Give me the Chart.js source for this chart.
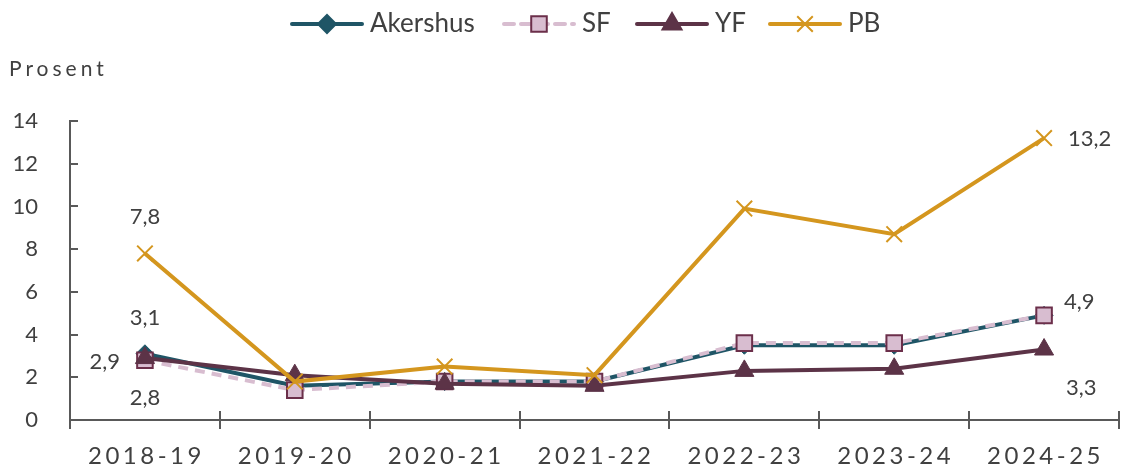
<!DOCTYPE html>
<html lang="no">
<head>
<meta charset="UTF-8">
<title>Prosent</title>
<script src="https://cdn.jsdelivr.net/npm/chart.js@4.4.1/dist/chart.umd.min.js"></script>
<style>
  html, body { margin: 0; padding: 0; background: #fff; }
  .wrap { width: 1132px; height: 468px; }
</style>
</head>
<body>
<div class="wrap"><canvas id="chart" width="1132" height="468"></canvas></div>
<script>
// data
const categories = ['2018-19', '2019-20', '2020-21', '2021-22', '2022-23', '2023-24', '2024-25'];
const akershus = [3.1, 1.6, 1.8, 1.8, 3.5, 3.5, 4.9];
const sf = [2.8, 1.4, 1.8, 1.8, 3.6, 3.6, 4.9];
const yf = [2.9, 2.1, 1.7, 1.6, 2.3, 2.4, 3.3];
const pb = [7.8, 1.8, 2.5, 2.1, 9.9, 8.7, 13.2];
const seriesNames = ['Akershus', 'SF', 'YF', 'PB'];
const yMin = 0, yMax = 14, yStep = 2;

const FONT = 'Lato, "Open Sans", sans-serif';
const TEXT = '#404040';
const AXIS = '#595959';

const colors = {
  akershus: '#1f5566',
  sfLine: '#d8bdd0',
  sfEdge: '#6b2f4a',
  yf: '#5c3347',
  pb: '#d4961e'
};

// which end points get value labels, and where
const valueLabels = [
  { ds: 0, i: 0, dx: 0, dy: -36, align: 'center' },
  { ds: 2, i: 0, dx: -25, dy: 4, align: 'right' },
  { ds: 1, i: 0, dx: 0, dy: 38, align: 'center' },
  { ds: 3, i: 0, dx: 0, dy: -37, align: 'center' },
  { ds: 3, i: 6, dx: 24, dy: 1, align: 'left' },
  { ds: 1, i: 6, dx: 20, dy: -13, align: 'left' },
  { ds: 2, i: 6, dx: 22, dy: 38, align: 'left' }
];

const fmt = v => v.toFixed(1).replace('.', ',');

const extras = {
  id: 'extras',
  afterDraw(chart) {
    const ctx = chart.ctx;
    const x = chart.scales.x, y = chart.scales.y;
    const area = chart.chartArea;
    ctx.save();

    // y tick marks (inside) and x tick marks (crossing the axis)
    ctx.strokeStyle = AXIS;
    ctx.lineWidth = 2;
    ctx.beginPath();
    y.ticks.forEach(t => {
      const py = Math.round(y.getPixelForValue(t.value));
      ctx.moveTo(area.left, py);
      ctx.lineTo(area.left + 8, py);
    });
    for (let i = 0; i <= categories.length; i++) {
      const px = Math.round(x.getPixelForValue(i - 0.5));
      ctx.moveTo(px, area.bottom - 9);
      ctx.lineTo(px, area.bottom + 9);
    }
    ctx.stroke();

    // x labels with letter spacing
    ctx.fillStyle = TEXT;
    ctx.font = '24px ' + FONT;
    ctx.letterSpacing = '3.5px';
    ctx.textAlign = 'center';
    ctx.textBaseline = 'middle';
    categories.forEach((c, i) => {
      ctx.fillText(c, x.getPixelForValue(i) + 1.5, area.bottom + 36);
    });

    // axis title
    ctx.font = '21px ' + FONT;
    ctx.letterSpacing = '4px';
    ctx.textAlign = 'left';
    ctx.fillText('Prosent', 9, 69);
    ctx.letterSpacing = '0px';

    // value labels
    ctx.font = '22px ' + FONT;
    valueLabels.forEach(l => {
      const pt = chart.getDatasetMeta(l.ds).data[l.i];
      const v = chart.data.datasets[l.ds].data[l.i];
      ctx.textAlign = l.align;
      ctx.fillText(fmt(v), pt.x + l.dx, pt.y + l.dy);
    });

    // legend: line + marker + name
    const legendX = [292, 504, 637, 770];
    const lineLen = 70;
    const ly = 24;
    chart.data.datasets.forEach((ds, k) => {
      const x0 = legendX[k];
      ctx.save();
      ctx.strokeStyle = ds.borderColor;
      ctx.lineWidth = ds.borderWidth;
      ctx.lineCap = 'round';
      ctx.setLineDash(ds.borderDash || []);
      ctx.beginPath();
      ctx.moveTo(x0, ly);
      ctx.lineTo(x0 + lineLen, ly);
      ctx.stroke();
      ctx.restore();
      ctx.fillStyle = ds.pointBackgroundColor;
      ctx.strokeStyle = ds.pointBorderColor;
      Chart.helpers.drawPoint(ctx, {
        pointStyle: ds.pointStyle,
        radius: ds.pointRadius,
        rotation: 0,
        borderWidth: ds.pointBorderWidth
      }, x0 + lineLen / 2, ly);
      ctx.fillStyle = TEXT;
      ctx.font = '26px ' + FONT;
      ctx.textAlign = 'left';
      ctx.textBaseline = 'middle';
      ctx.fillText(ds.label, x0 + lineLen + 8, ly);
    });
    ctx.restore();
  }
};

new Chart(document.getElementById('chart'), {
  type: 'line',
  data: {
    labels: categories,
    datasets: [
      {
        label: seriesNames[0], data: akershus, order: 4,
        borderColor: colors.akershus, borderWidth: 4,
        pointStyle: 'rectRot', pointRadius: 9,
        pointBackgroundColor: colors.akershus, pointBorderColor: colors.akershus, pointBorderWidth: 1
      },
      {
        label: seriesNames[1], data: sf, order: 3,
        borderColor: colors.sfLine, borderWidth: 4, borderDash: [10, 7],
        pointStyle: 'rect', pointRadius: 11,
        pointBackgroundColor: colors.sfLine, pointBorderColor: colors.sfEdge, pointBorderWidth: 2
      },
      {
        label: seriesNames[2], data: yf, order: 2,
        borderColor: colors.yf, borderWidth: 4,
        pointStyle: 'triangle', pointRadius: 11,
        pointBackgroundColor: colors.yf, pointBorderColor: colors.yf, pointBorderWidth: 1
      },
      {
        label: seriesNames[3], data: pb, order: 1,
        borderColor: colors.pb, borderWidth: 4,
        pointStyle: 'crossRot', pointRadius: 11,
        pointBackgroundColor: colors.pb, pointBorderColor: colors.pb, pointBorderWidth: 2
      }
    ]
  },
  options: {
    responsive: false,
    animation: false,
    events: [],
    layout: { padding: { top: 121, right: 4, left: 0, bottom: 0 } },
    plugins: { legend: { display: false }, tooltip: { enabled: false } },
    elements: { line: { tension: 0 } },
    scales: {
      x: {
        offset: true,
        grid: { display: false },
        border: { display: true, color: AXIS, width: 2 },
        ticks: { display: false },
        afterFit: s => { s.height = 48; }
      },
      y: {
        min: yMin, max: yMax,
        grid: { display: false },
        border: { display: true, color: AXIS, width: 2 },
        ticks: {
          stepSize: yStep, color: TEXT, padding: 24,
          font: { family: FONT, size: 22 }
        },
        afterFit: s => { s.width = 70; }
      }
    }
  },
  plugins: [extras]
});
</script>
</body>
</html>
